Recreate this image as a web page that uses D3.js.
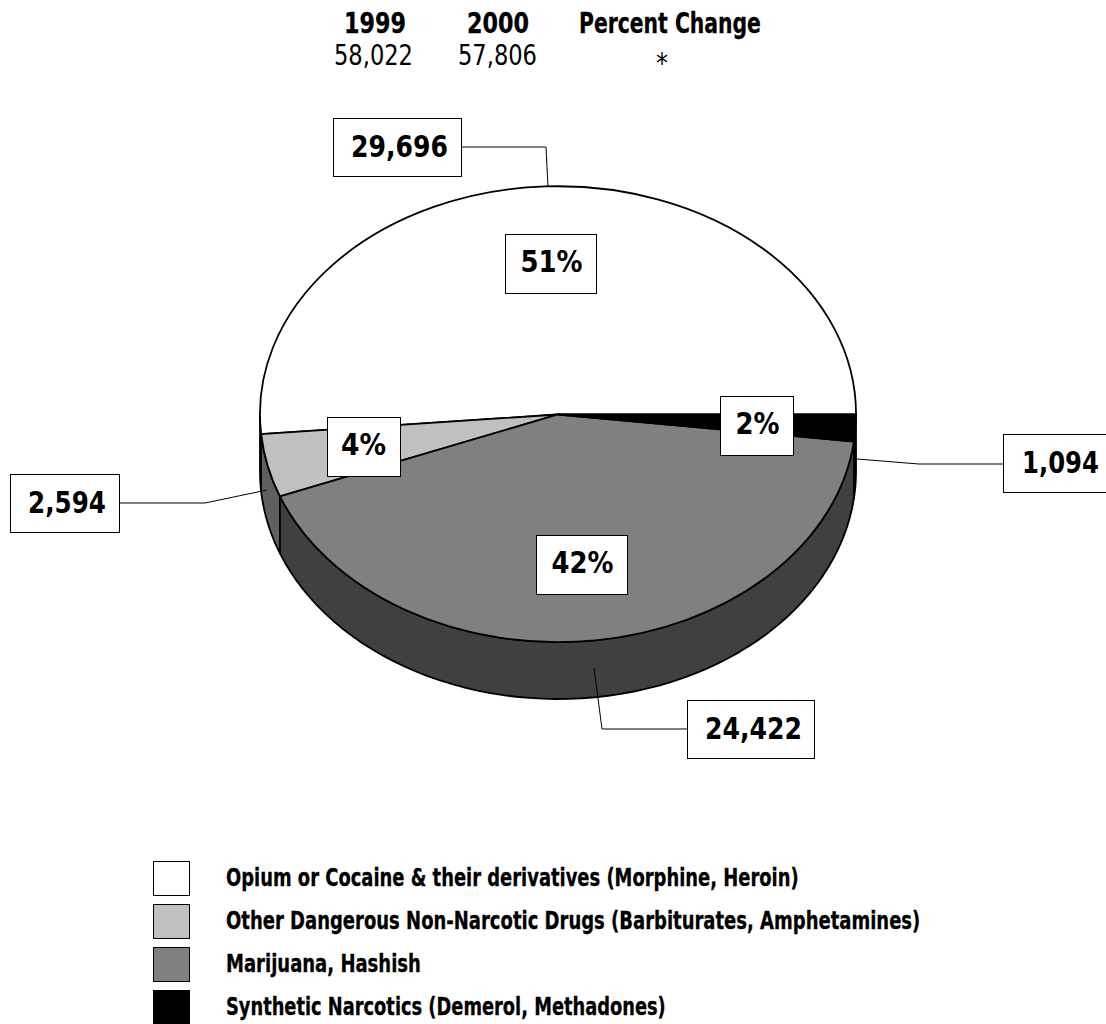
<!DOCTYPE html>
<html>
<head>
<meta charset="utf-8">
<script src="https://d3js.org/d3.v7.min.js"></script>
<style>
html, body { margin: 0; padding: 0; background: #fff; }
svg { display: block; }
text { font-family: "DejaVu Sans Condensed", "DejaVu Sans", sans-serif; fill: #000; }
</style>
</head>
<body>
<svg id="chart" width="1106" height="1024"></svg>
<script>
const categories = [
    'Opium or Cocaine & their derivatives (Morphine, Heroin)',
    'Other Dangerous Non-Narcotic Drugs (Barbiturates, Amphetamines)',
    'Marijuana, Hashish',
    'Synthetic Narcotics (Demerol, Methadones)'
];
const values = [29696, 2594, 24422, 1094];
const percents = ['51%', '4%', '42%', '2%'];
const countLabels = ['29,696', '2,594', '24,422', '1,094'];
const topColors = ['#ffffff', '#c0c0c0', '#808080', '#000000'];
const sideColors = ['#ffffff', '#606060', '#404040', '#000000'];
const headers = ['1999', '2000', 'Percent Change'];
const totals = ['58,022', '57,806', '*'];

const svg = d3.select('#chart');
const cx = 558, cy = 414.5, rx = 298, ry = 227.5, depth = 57;

// box position, text width, leader line for each slice
const countBoxes = [
    { x: 333, y: 118, w: 128, tx: 351, tw: 97, line: [[461, 147], [546, 147], [548, 187]] },
    { x: 10, y: 474, w: 109, tx: 28, tw: 78, line: [[119, 503], [205, 503], [267, 490]] },
    { x: 687, y: 700, w: 127, tx: 705, tw: 97, line: [[594, 668], [602, 729], [687, 729]] },
    { x: 1003, y: 434, w: 110, tx: 1022, tw: 77, line: [[857, 459], [919, 464], [1003, 464]] }
];
const pctBoxes = [
    { x: 505, y: 234, w: 91, h: 59, tw: 62, dx: 1 },
    { x: 327, y: 417, w: 73, h: 59, tw: 45, dx: 0 },
    { x: 536, y: 535, w: 91, h: 59, tw: 62, dx: 1 },
    { x: 720, y: 396, w: 73, h: 59, tw: 44, dx: 1 }
];

const slices = d3.pie().sort(null).startAngle(Math.PI / 2).endAngle(Math.PI / 2 - 2 * Math.PI)(values);

const px = a => cx + rx * Math.sin(a);
const py = a => cy - ry * Math.cos(a);

// rim of a slice, only the part that faces the viewer (lower half of the ellipse)
const wallPath = (a0, a1) => {
    const p = d3.path();
    const steps = 60;
    const pts = d3.range(steps + 1).map(i => a0 + (a1 - a0) * i / steps);
    pts.forEach((a, i) => i ? p.lineTo(px(a), py(a) + depth) : p.moveTo(px(a), py(a) + depth));
    pts.slice().reverse().forEach(a => p.lineTo(px(a), py(a)));
    p.closePath();
    return p.toString();
};

const walls = svg.append('g');
slices.forEach((s, i) => {
    // angles run counter-clockwise here; front half is between -270 and -90 degrees
    const hi = Math.min(s.startAngle, -Math.PI / 2);
    const lo = Math.max(s.endAngle, -3 * Math.PI / 2);
    if (hi <= lo) return;
    walls.append('path')
        .attr('d', wallPath(hi, lo))
        .attr('fill', sideColors[i])
        .attr('stroke', '#000')
        .attr('stroke-width', 1.8)
        .attr('stroke-linejoin', 'round');
});

const arc = d3.arc().innerRadius(0).outerRadius(1);
const pieTop = svg.append('g').attr('transform', `translate(${cx},${cy}) scale(${rx},${ry})`);
pieTop.selectAll('path')
    .data(slices)
    .enter().append('path')
    .attr('d', d => arc({ startAngle: d.endAngle, endAngle: d.startAngle }))
    .attr('fill', (d, i) => topColors[i])
    .attr('stroke', '#000')
    .attr('stroke-width', 1.8)
    .attr('vector-effect', 'non-scaling-stroke');

// leader lines
const lineGen = d3.line();
svg.append('g').selectAll('path')
    .data(countBoxes)
    .enter().append('path')
    .attr('d', d => lineGen(d.line))
    .attr('fill', 'none')
    .attr('stroke', '#000')
    .attr('stroke-width', 1);

// squeeze a text sideways to the width it has in the picture
function fitWidth(sel, getX, getY, getW) {
    sel.each(function (d, i) {
        const w = this.getComputedTextLength();
        d3.select(this).attr('transform', `translate(${getX(d, i)},${getY(d, i)}) scale(${getW(d, i) / w},1)`);
    });
}

const boxH = 58;
const labelFont = '"DejaVu Sans", sans-serif';
const countG = svg.append('g').selectAll('g')
    .data(countBoxes)
    .enter().append('g');
countG.append('rect')
    .attr('x', d => d.x + 0.5).attr('y', d => d.y + 0.5)
    .attr('width', d => d.w).attr('height', boxH)
    .attr('fill', '#fff').attr('stroke', '#000').attr('stroke-width', 1);
countG.append('text')
    .style('font-family', labelFont)
    .attr('font-weight', 'bold').attr('font-size', 31)
    .text((d, i) => countLabels[i])
    .call(fitWidth, d => d.tx, d => d.y + 39, d => d.tw);

const pctG = svg.append('g').selectAll('g')
    .data(pctBoxes)
    .enter().append('g');
pctG.append('rect')
    .attr('x', d => d.x + 0.5).attr('y', d => d.y + 0.5)
    .attr('width', d => d.w).attr('height', d => d.h)
    .attr('fill', '#fff').attr('stroke', '#000').attr('stroke-width', 1);
pctG.append('text')
    .style('font-family', labelFont)
    .attr('font-weight', 'bold').attr('font-size', 31)
    .text((d, i) => percents[i])
    .call(fitWidth, d => d.x + d.dx + (d.w - d.tw) / 2, d => d.y + 38, d => d.tw);

// header table
const headerX = [344, 467, 579];
const headerW = [62, 62, 182];
svg.append('g').selectAll('text')
    .data(headers)
    .enter().append('text')
    .attr('font-weight', 'bold').attr('font-size', 28)
    .attr('stroke', '#000').attr('stroke-width', 0.3)
    .text(d => d)
    .call(fitWidth, (d, i) => headerX[i], () => 33, (d, i) => headerW[i]);
const totalX = [334, 458, 656];
const totalW = [79, 79, 12];
svg.append('g').selectAll('text')
    .data(totals)
    .enter().append('text')
    .attr('font-size', 28)
    .text(d => d)
    .call(fitWidth, (d, i) => totalX[i], (d, i) => i === 2 ? 73 : 65, (d, i) => totalW[i]);

// legend
const legendY = d3.scalePoint().domain(categories).range([861, 990]);
const legendW = [573, 695, 195, 440];
const legend = svg.append('g').selectAll('g')
    .data(categories)
    .enter().append('g')
    .attr('transform', d => `translate(0,${legendY(d)})`);
legend.append('rect')
    .attr('x', 153.5).attr('y', 0.5)
    .attr('width', 36).attr('height', 34)
    .attr('fill', (d, i) => topColors[i])
    .attr('stroke', '#000').attr('stroke-width', 1);
legend.append('text')
    .attr('font-weight', 'bold').attr('font-size', 25)
    .attr('stroke', '#000').attr('stroke-width', 0.3)
    .text(d => d)
    .call(fitWidth, () => 226, () => 25, (d, i) => legendW[i]);
</script>
</body>
</html>
